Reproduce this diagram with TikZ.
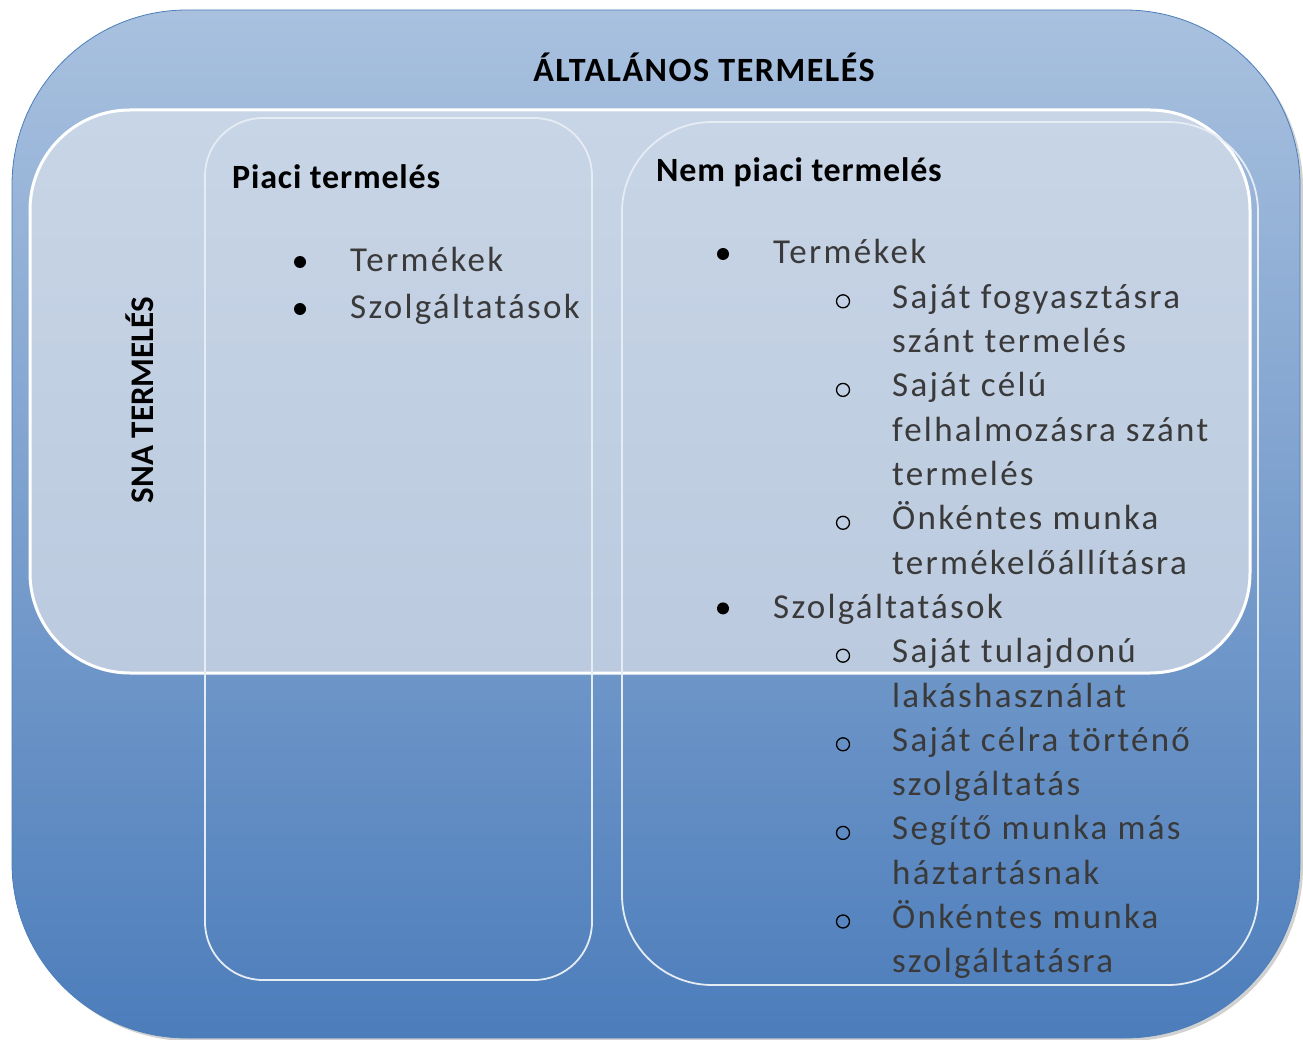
\documentclass[tikz,border=0pt]{standalone}
\usepackage{fontspec}
\setmainfont{Carlito}
\definecolor{topblue}{HTML}{A9C1DF}
\definecolor{botblue}{HTML}{4C7DBB}
\definecolor{edgeblue}{HTML}{4A7EBB}
\definecolor{snatop}{HTML}{C8D5E6}
\definecolor{snabot}{HTML}{BBCADF}
\definecolor{txtgray}{HTML}{3A3A3A}
\definecolor{boxline}{HTML}{E6ECF4}
\begin{document}
\begin{tikzpicture}[x=1pt,y=-1pt,
  box/.style={rectangle, inner sep=0pt, outer sep=0pt},
  hdr/.style={font=\fontsize{34}{40}\selectfont\bfseries\addfontfeatures{LetterSpace=2.5}, text=black, inner sep=0pt, anchor=base west},
  ttl/.style={font=\fontsize{34}{40}\selectfont\bfseries\addfontfeatures{LetterSpace=4.5}, text=black, inner sep=0pt, anchor=base},
  sidettl/.style={font=\fontsize{33}{40}\selectfont\bfseries, text=black, inner sep=0pt, anchor=base},
  item/.style={font=\fontsize{35}{42}\selectfont\addfontfeatures{LetterSpace=6.5}, text=txtgray, inner sep=0pt, anchor=base west},
  dot/.style={fill=black},
  ring/.style={draw=black, line width=1.3pt}]
\useasboundingbox (0,0) rectangle (1303,1040);
% outer box with shadow
\node[box, minimum width=1288pt, minimum height=1028pt, rounded corners=175pt, fill=black, opacity=0.18] (shadow) at (659,527) {};
\node[box, minimum width=1288pt, minimum height=1028pt, rounded corners=175pt, top color=topblue, bottom color=botblue, draw=edgeblue, line width=0.8pt] (outer) at (656,524) {};
% SNA box
\node[box, minimum width=1220pt, minimum height=563pt, rounded corners=100pt, top color=snatop, bottom color=snabot, draw=white, line width=3pt] (sna) at (640,391.5) {};
% market / non-market boxes
\node[box, minimum width=387pt, minimum height=862pt, rounded corners=58pt, draw=boxline, line width=1.8pt] (piaci) at (398.5,549) {};
\node[box, minimum width=636pt, minimum height=863pt, rounded corners=90pt, draw=boxline, line width=1.8pt] (nempiaci) at (940,553.5) {};
% titles
\node[ttl] (title) at (704,82) {ÁLTALÁNOS TERMELÉS};
\node[sidettl, rotate=90] (snalabel) at (153,400) {SNA TERMELÉS};
\node[hdr] (piacih) at (232,189) {Piaci termelés};
\node[hdr] (nemh) at (656,182) {Nem piaci termelés};
% piaci list
\fill[dot] (300,262) circle (6pt);
\node[item] (p1) at (350,272) {Termékek};
\fill[dot] (300,309) circle (6pt);
\node[item] (p2) at (350,319) {Szolgáltatások};
% nem piaci list
\fill[dot] (723,254) circle (6pt);
\node[item] (n0) at (773,264) {Termékek};
\draw[ring] (843,301.3) circle (6.5pt);
\node[item] (n1) at (892,308.3) {Saját fogyasztásra};
\node[item] (n2) at (892,352.6) {szánt termelés};
\draw[ring] (843,389.9) circle (6.5pt);
\node[item] (n3) at (892,396.9) {Saját célú};
\node[item] (n4) at (892,441.2) {felhalmozásra szánt};
\node[item] (n5) at (892,485.5) {termelés};
\draw[ring] (843,522.8) circle (6.5pt);
\node[item] (n6) at (892,529.8) {Önkéntes munka};
\node[item] (n7) at (892,574.1) {termékelőállításra};
\fill[dot] (723,608.4) circle (6pt);
\node[item] (n8) at (773,618.4) {Szolgáltatások};
\draw[ring] (843,655.7) circle (6.5pt);
\node[item] (n9) at (892,662.7) {Saját tulajdonú};
\node[item] (n10) at (892,707) {lakáshasználat};
\draw[ring] (843,744.3) circle (6.5pt);
\node[item] (n11) at (892,751.3) {Saját célra történő};
\node[item] (n12) at (892,795.6) {szolgáltatás};
\draw[ring] (843,832.9) circle (6.5pt);
\node[item] (n13) at (892,839.9) {Segítő munka más};
\node[item] (n14) at (892,884.2) {háztartásnak};
\draw[ring] (843,921.5) circle (6.5pt);
\node[item] (n15) at (892,928.5) {Önkéntes munka};
\node[item] (n16) at (892,972.8) {szolgáltatásra};
\end{tikzpicture}
\end{document}
